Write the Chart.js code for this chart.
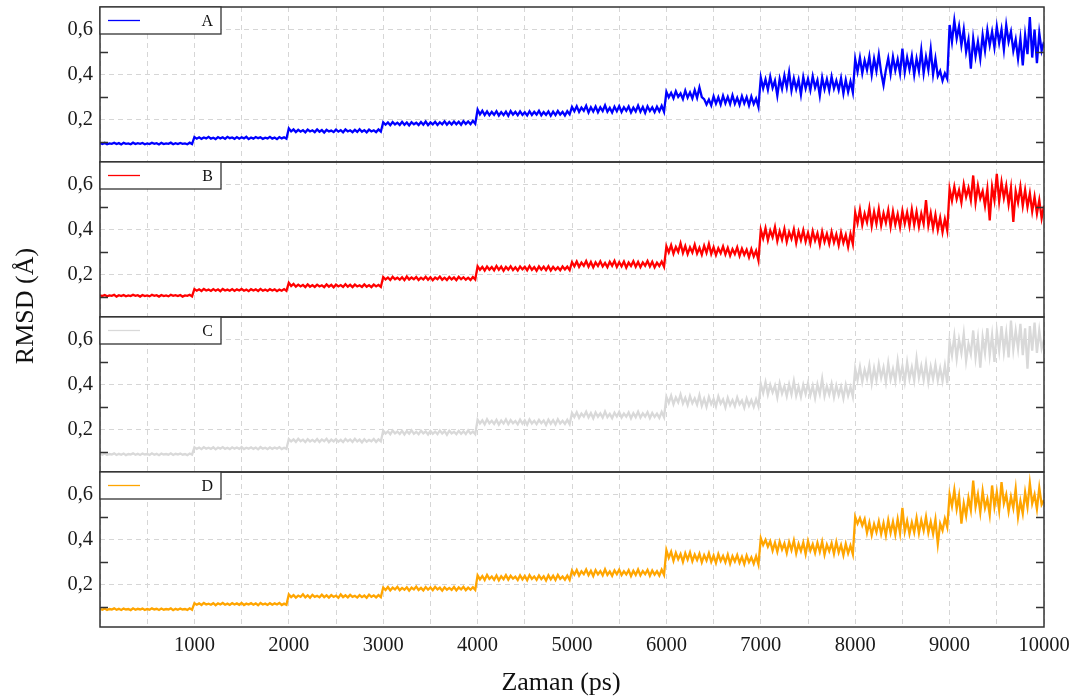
<!DOCTYPE html>
<html>
<head>
<meta charset="utf-8">
<script src="https://cdn.jsdelivr.net/npm/chart.js@4.4.1/dist/chart.umd.min.js"></script>
<style>
html,body{margin:0;padding:0;background:#fff;}
#wrap{position:relative;width:1083px;height:700px;}
canvas{display:block;}
</style>
</head>
<body>
<div id="wrap"><canvas id="c" width="1083" height="700"></canvas></div>
<script>
// ---- data (RMSD in Å, sampled every 25 ps from 0 to 10000 ps; one row = 1000 ps) ----
const seriesLabels = ['A', 'B', 'C', 'D'];
const seriesColors = ['#0000ff', '#ff0000', '#d9d9d9', '#ffa500'];
const sampleStepPs = 25;
const xTickLabels = [1000, 2000, 3000, 4000, 5000, 6000, 7000, 8000, 9000, 10000];
const yTickLabels = [0.2, 0.4, 0.6];
const yMinorTicks = [0.1, 0.3, 0.5];

const rmsdA = [
  0.094,0.090,0.095,0.089,0.093,0.091,0.096,0.090,0.094,0.088,0.095,0.091,0.093,0.089,0.096,0.090,0.094,0.091,0.095,0.089,0.093,0.090,0.096,0.091,0.094,0.088,0.095,0.090,0.093,0.091,0.096,0.089,0.094,0.090,0.095,0.091,0.093,0.089,0.096,0.090,
  0.121,0.114,0.120,0.113,0.119,0.115,0.122,0.114,0.118,0.112,0.121,0.115,0.120,0.113,0.122,0.116,0.119,0.113,0.121,0.114,0.120,0.115,0.122,0.112,0.119,0.114,0.121,0.116,0.120,0.113,0.118,0.115,0.122,0.114,0.119,0.112,0.121,0.115,0.120,0.114,
  0.160,0.146,0.155,0.143,0.153,0.145,0.152,0.142,0.154,0.146,0.151,0.143,0.155,0.145,0.152,0.141,0.153,0.146,0.150,0.143,0.154,0.145,0.152,0.142,0.155,0.146,0.151,0.143,0.153,0.144,0.156,0.145,0.152,0.142,0.154,0.146,0.151,0.143,0.155,0.145,
  0.187,0.176,0.186,0.174,0.188,0.177,0.185,0.175,0.189,0.176,0.186,0.173,0.187,0.178,0.185,0.175,0.188,0.176,0.190,0.174,0.186,0.177,0.189,0.175,0.187,0.178,0.191,0.176,0.188,0.177,0.190,0.178,0.189,0.176,0.192,0.179,0.190,0.178,0.193,0.180,
  0.243,0.222,0.238,0.219,0.235,0.218,0.233,0.220,0.236,0.217,0.232,0.219,0.234,0.216,0.237,0.221,0.233,0.218,0.235,0.220,0.231,0.217,0.236,0.219,0.233,0.221,0.238,0.218,0.232,0.220,0.235,0.216,0.234,0.219,0.237,0.221,0.233,0.217,0.236,0.222,
  0.255,0.236,0.258,0.233,0.252,0.238,0.260,0.231,0.254,0.235,0.257,0.232,0.253,0.237,0.262,0.234,0.251,0.230,0.256,0.236,0.259,0.233,0.254,0.238,0.257,0.231,0.252,0.235,0.261,0.234,0.255,0.229,0.258,0.237,0.253,0.232,0.256,0.236,0.260,0.233,
  0.322,0.298,0.318,0.294,0.325,0.300,0.315,0.290,0.328,0.297,0.320,0.293,0.330,0.296,0.342,0.299,0.290,0.266,0.288,0.262,0.302,0.270,0.298,0.266,0.305,0.272,0.300,0.268,0.307,0.270,0.296,0.265,0.303,0.271,0.299,0.262,0.301,0.268,0.292,0.255,
  0.385,0.338,0.378,0.332,0.390,0.340,0.372,0.305,0.380,0.336,0.395,0.342,0.410,0.328,0.382,0.335,0.376,0.310,0.388,0.338,0.380,0.330,0.392,0.341,0.374,0.306,0.386,0.334,0.378,0.328,0.390,0.337,0.372,0.330,0.383,0.315,0.375,0.322,0.368,0.320,
  0.468,0.412,0.475,0.405,0.462,0.420,0.480,0.398,0.470,0.415,0.488,0.408,0.352,0.420,0.472,0.402,0.478,0.418,0.466,0.405,0.515,0.410,0.475,0.422,0.482,0.398,0.470,0.415,0.508,0.405,0.478,0.420,0.512,0.400,0.470,0.392,0.415,0.372,0.405,0.380,
  0.620,0.545,0.640,0.560,0.615,0.530,0.600,0.500,0.555,0.425,0.560,0.480,0.545,0.470,0.575,0.505,0.598,0.530,0.590,0.520,0.612,0.540,0.600,0.510,0.620,0.545,0.590,0.505,0.555,0.470,0.560,0.440,0.575,0.490,0.655,0.475,0.600,0.450,0.585,0.505,
  0.545
];
const rmsdB = [
  0.107,0.103,0.108,0.102,0.106,0.104,0.109,0.101,0.107,0.103,0.108,0.102,0.106,0.103,0.109,0.104,0.107,0.101,0.108,0.103,0.106,0.102,0.109,0.104,0.107,0.101,0.108,0.103,0.106,0.102,0.109,0.104,0.107,0.103,0.108,0.101,0.106,0.104,0.109,0.102,
  0.134,0.127,0.133,0.126,0.135,0.128,0.132,0.126,0.134,0.127,0.133,0.125,0.135,0.128,0.132,0.127,0.134,0.126,0.133,0.128,0.135,0.127,0.132,0.125,0.134,0.128,0.133,0.126,0.135,0.127,0.132,0.126,0.134,0.128,0.133,0.125,0.132,0.127,0.134,0.126,
  0.162,0.148,0.157,0.145,0.154,0.146,0.153,0.143,0.155,0.145,0.152,0.144,0.154,0.146,0.151,0.143,0.155,0.145,0.153,0.142,0.154,0.146,0.152,0.144,0.156,0.145,0.153,0.143,0.154,0.146,0.151,0.144,0.155,0.145,0.152,0.143,0.154,0.146,0.153,0.144,
  0.188,0.177,0.186,0.175,0.189,0.178,0.185,0.176,0.187,0.174,0.190,0.177,0.186,0.178,0.188,0.175,0.185,0.177,0.189,0.176,0.187,0.174,0.186,0.178,0.190,0.176,0.185,0.175,0.188,0.177,0.186,0.174,0.189,0.178,0.187,0.176,0.185,0.175,0.188,0.177,
  0.236,0.220,0.233,0.217,0.235,0.221,0.232,0.218,0.237,0.220,0.234,0.216,0.233,0.221,0.236,0.219,0.231,0.217,0.235,0.222,0.233,0.218,0.237,0.220,0.232,0.216,0.235,0.221,0.234,0.219,0.236,0.217,0.233,0.220,0.231,0.218,0.235,0.222,0.234,0.219,
  0.254,0.236,0.257,0.233,0.252,0.238,0.259,0.234,0.255,0.231,0.253,0.237,0.258,0.235,0.251,0.232,0.256,0.238,0.260,0.233,0.254,0.236,0.257,0.230,0.252,0.237,0.258,0.234,0.255,0.232,0.253,0.238,0.259,0.235,0.256,0.231,0.252,0.237,0.257,0.234,
  0.325,0.298,0.330,0.292,0.322,0.300,0.338,0.295,0.326,0.290,0.320,0.297,0.332,0.293,0.318,0.288,0.327,0.296,0.335,0.291,0.321,0.286,0.316,0.294,0.324,0.289,0.318,0.283,0.312,0.290,0.320,0.282,0.314,0.287,0.310,0.276,0.312,0.280,0.305,0.262,
  0.398,0.360,0.405,0.352,0.395,0.365,0.410,0.348,0.392,0.355,0.402,0.345,0.388,0.358,0.400,0.340,0.390,0.352,0.396,0.346,0.385,0.338,0.392,0.350,0.383,0.332,0.390,0.345,0.380,0.336,0.388,0.342,0.378,0.330,0.386,0.340,0.375,0.322,0.380,0.335,
  0.475,0.428,0.488,0.420,0.470,0.432,0.495,0.415,0.478,0.425,0.490,0.418,0.472,0.430,0.485,0.412,0.480,0.422,0.468,0.410,0.482,0.426,0.475,0.415,0.488,0.420,0.478,0.412,0.470,0.425,0.530,0.418,0.472,0.405,0.465,0.398,0.452,0.388,0.445,0.395,
  0.580,0.528,0.590,0.535,0.575,0.520,0.600,0.545,0.585,0.530,0.640,0.520,0.595,0.538,0.570,0.505,0.580,0.440,0.590,0.530,0.647,0.525,0.610,0.540,0.595,0.512,0.585,0.433,0.570,0.520,0.590,0.505,0.575,0.500,0.560,0.480,0.545,0.470,0.530,0.450,
  0.505
];
const rmsdC = [
  0.091,0.087,0.092,0.086,0.090,0.088,0.093,0.086,0.091,0.087,0.092,0.085,0.090,0.088,0.093,0.087,0.091,0.086,0.092,0.088,0.090,0.086,0.093,0.087,0.091,0.085,0.092,0.088,0.090,0.087,0.093,0.086,0.091,0.088,0.092,0.087,0.090,0.085,0.092,0.087,
  0.120,0.113,0.119,0.112,0.121,0.114,0.118,0.113,0.120,0.111,0.119,0.114,0.121,0.113,0.118,0.112,0.120,0.114,0.119,0.113,0.121,0.112,0.118,0.114,0.120,0.113,0.119,0.111,0.121,0.114,0.118,0.112,0.120,0.113,0.119,0.114,0.121,0.112,0.118,0.113,
  0.157,0.146,0.155,0.144,0.158,0.147,0.154,0.143,0.156,0.146,0.153,0.145,0.157,0.144,0.155,0.147,0.158,0.143,0.154,0.146,0.156,0.145,0.153,0.143,0.157,0.147,0.155,0.144,0.158,0.146,0.154,0.142,0.156,0.145,0.153,0.147,0.157,0.144,0.155,0.146,
  0.194,0.181,0.191,0.178,0.195,0.182,0.190,0.179,0.193,0.177,0.192,0.181,0.196,0.180,0.189,0.178,0.194,0.182,0.191,0.177,0.193,0.180,0.190,0.179,0.195,0.181,0.192,0.176,0.194,0.182,0.189,0.178,0.193,0.180,0.191,0.179,0.196,0.181,0.190,0.178,
  0.243,0.226,0.240,0.222,0.245,0.227,0.238,0.224,0.242,0.221,0.239,0.226,0.244,0.223,0.241,0.227,0.237,0.222,0.243,0.225,0.240,0.221,0.244,0.226,0.238,0.223,0.242,0.227,0.239,0.220,0.243,0.225,0.241,0.222,0.245,0.226,0.238,0.224,0.242,0.223,
  0.273,0.255,0.276,0.251,0.270,0.257,0.278,0.253,0.272,0.249,0.275,0.256,0.271,0.252,0.279,0.254,0.269,0.250,0.274,0.257,0.277,0.253,0.270,0.256,0.275,0.249,0.272,0.254,0.278,0.252,0.271,0.257,0.276,0.250,0.273,0.255,0.270,0.251,0.277,0.254,
  0.345,0.318,0.350,0.312,0.342,0.320,0.355,0.315,0.340,0.308,0.348,0.316,0.338,0.310,0.352,0.305,0.336,0.300,0.344,0.312,0.335,0.302,0.346,0.314,0.333,0.298,0.340,0.308,0.330,0.303,0.342,0.311,0.328,0.296,0.337,0.305,0.330,0.300,0.334,0.302,
  0.402,0.362,0.410,0.355,0.398,0.365,0.395,0.342,0.405,0.360,0.392,0.348,0.400,0.356,0.415,0.350,0.390,0.345,0.398,0.358,0.405,0.352,0.394,0.340,0.400,0.357,0.425,0.348,0.392,0.355,0.402,0.343,0.395,0.352,0.390,0.338,0.398,0.350,0.388,0.345,
  0.470,0.420,0.478,0.412,0.465,0.425,0.485,0.405,0.472,0.418,0.490,0.430,0.475,0.410,0.495,0.422,0.468,0.415,0.505,0.428,0.480,0.412,0.498,0.425,0.476,0.418,0.515,0.430,0.482,0.420,0.492,0.410,0.478,0.425,0.488,0.418,0.472,0.415,0.484,0.405,
  0.590,0.530,0.615,0.515,0.600,0.540,0.625,0.505,0.580,0.535,0.640,0.520,0.605,0.475,0.610,0.540,0.650,0.530,0.620,0.500,0.635,0.550,0.660,0.545,0.630,0.520,0.684,0.555,0.640,0.560,0.670,0.530,0.650,0.470,0.660,0.550,0.675,0.540,0.640,0.560,
  0.600
];
const rmsdD = [
  0.091,0.087,0.092,0.086,0.090,0.088,0.093,0.087,0.091,0.086,0.092,0.088,0.090,0.085,0.093,0.087,0.091,0.088,0.092,0.086,0.090,0.087,0.093,0.088,0.091,0.086,0.092,0.087,0.090,0.088,0.093,0.085,0.091,0.087,0.092,0.088,0.090,0.086,0.093,0.087,
  0.116,0.109,0.115,0.108,0.117,0.110,0.114,0.109,0.116,0.107,0.115,0.110,0.117,0.109,0.114,0.108,0.116,0.110,0.115,0.109,0.117,0.108,0.114,0.110,0.116,0.109,0.115,0.107,0.117,0.110,0.114,0.108,0.116,0.109,0.115,0.110,0.117,0.108,0.114,0.109,
  0.155,0.143,0.152,0.141,0.150,0.144,0.156,0.142,0.151,0.140,0.153,0.144,0.149,0.142,0.154,0.143,0.151,0.141,0.152,0.144,0.150,0.140,0.155,0.143,0.151,0.142,0.153,0.144,0.149,0.141,0.152,0.143,0.150,0.140,0.154,0.144,0.151,0.142,0.152,0.143,
  0.186,0.175,0.188,0.173,0.185,0.177,0.189,0.174,0.184,0.176,0.187,0.172,0.185,0.177,0.190,0.175,0.184,0.173,0.188,0.176,0.186,0.174,0.189,0.177,0.185,0.172,0.187,0.176,0.184,0.175,0.188,0.173,0.186,0.177,0.189,0.174,0.185,0.176,0.187,0.175,
  0.240,0.222,0.237,0.219,0.242,0.224,0.235,0.220,0.239,0.218,0.236,0.223,0.241,0.221,0.238,0.225,0.234,0.219,0.240,0.222,0.237,0.218,0.241,0.224,0.235,0.220,0.239,0.223,0.236,0.217,0.240,0.222,0.238,0.219,0.242,0.224,0.235,0.221,0.239,0.220,
  0.261,0.243,0.264,0.239,0.258,0.245,0.266,0.241,0.260,0.237,0.263,0.244,0.259,0.240,0.267,0.242,0.257,0.238,0.262,0.245,0.265,0.241,0.258,0.244,0.263,0.237,0.260,0.242,0.266,0.240,0.259,0.245,0.264,0.238,0.261,0.243,0.258,0.239,0.265,0.242,
  0.352,0.318,0.345,0.305,0.340,0.312,0.335,0.300,0.338,0.310,0.342,0.303,0.332,0.308,0.336,0.298,0.330,0.306,0.338,0.300,0.328,0.295,0.334,0.304,0.326,0.298,0.332,0.292,0.325,0.302,0.330,0.296,0.322,0.290,0.328,0.299,0.320,0.292,0.325,0.288,
  0.405,0.375,0.398,0.368,0.392,0.350,0.385,0.345,0.390,0.355,0.382,0.340,0.388,0.352,0.395,0.338,0.380,0.348,0.386,0.335,0.392,0.350,0.378,0.340,0.385,0.345,0.390,0.332,0.376,0.348,0.383,0.336,0.388,0.342,0.375,0.330,0.380,0.338,0.372,0.334,
  0.500,0.470,0.495,0.462,0.490,0.430,0.475,0.420,0.468,0.432,0.480,0.425,0.472,0.418,0.485,0.430,0.478,0.422,0.490,0.428,0.540,0.435,0.482,0.425,0.475,0.432,0.495,0.428,0.485,0.440,0.500,0.430,0.478,0.425,0.488,0.380,0.470,0.440,0.492,0.455,
  0.600,0.548,0.620,0.535,0.595,0.470,0.560,0.505,0.585,0.530,0.662,0.545,0.600,0.520,0.615,0.540,0.580,0.510,0.640,0.545,0.610,0.530,0.655,0.560,0.600,0.525,0.590,0.540,0.625,0.500,0.570,0.515,0.610,0.545,0.650,0.560,0.600,0.535,0.630,0.555,
  0.575
];
const seriesValues = [rmsdA, rmsdB, rmsdC, rmsdD];

// ---- chart ----
const SERIF = '"Liberation Serif", "DejaVu Serif", serif';
const axisIds = ['yA', 'yB', 'yC', 'yD'];
const GRID = '#d6d6d6';
const FRAME = '#333333';

const datasets = seriesValues.map((vals, i) => ({
  label: seriesLabels[i],
  data: vals.map((v, k) => ({ x: k * sampleStepPs, y: v })),
  borderColor: seriesColors[i],
  backgroundColor: seriesColors[i],
  borderWidth: 2.3,
  borderJoinStyle: 'miter',
  pointRadius: 0,
  tension: 0,
  yAxisID: axisIds[i]
}));

const isMajorY = v => yTickLabels.some(t => Math.abs(t - v) < 1e-6);

function makeY() {
  return {
    type: 'linear',
    position: 'left',
    stack: 'panels',
    stackWeight: 1,
    min: 0.01,
    max: 0.70,
    afterBuildTicks: s => { s.ticks = yMinorTicks.concat(yTickLabels).sort((a, b) => a - b).map(v => ({ value: v })); },
    afterFit: s => { s.width = 100; s.paddingTop = 0; s.paddingBottom = 0; },
    grid: {
      drawTicks: false,
      color: ctx => (ctx.tick && isMajorY(ctx.tick.value)) ? GRID : 'rgba(0,0,0,0)',
      lineWidth: 1
    },
    border: { display: false, dash: [5, 4] },
    ticks: {
      autoSkip: false,
      padding: 7,
      color: '#1a1a1a',
      font: { family: SERIF, size: 20.5 },
      callback: v => isMajorY(v) ? v.toFixed(1).replace('.', ',') : ''
    }
  };
}

const scales = {
  x: {
    type: 'linear',
    min: 0,
    max: 10000,
    afterBuildTicks: s => {
      const t = [];
      for (let v = 0; v <= 10000; v += 500) t.push({ value: v });
      s.ticks = t;
    },
    afterFit: s => { s.height = 73; s.paddingLeft = 0; s.paddingRight = 0; },
    grid: { drawTicks: false, color: GRID, lineWidth: 1 },
    border: { display: false, dash: [5, 4] },
    ticks: {
      padding: 6,
      autoSkip: false,
      maxRotation: 0,
      color: '#1a1a1a',
      font: { family: SERIF, size: 20.5 },
      callback: v => xTickLabels.includes(v) ? String(v) : ''
    }
  }
};
// stacked scales: the last one defined is placed on top, so add D..A
axisIds.slice().reverse().forEach(id => { scales[id] = makeY(); });

const framePlugin = {
  id: 'frame',
  afterDatasetsDraw(chart) {
    const ctx = chart.ctx;
    const ca = chart.chartArea;
    ctx.save();
    chart.data.datasets.forEach((ds) => {
      const sc = chart.scales[ds.yAxisID];
      const top = sc.top, bottom = sc.bottom;
      ctx.strokeStyle = FRAME;
      ctx.lineWidth = 1.5;
      yMinorTicks.forEach(v => {
        const y = Math.round(sc.getPixelForValue(v)) + 0.5;
        ctx.beginPath();
        ctx.moveTo(ca.left, y); ctx.lineTo(ca.left + 8, y);
        ctx.moveTo(ca.right - 8, y); ctx.lineTo(ca.right, y);
        ctx.stroke();
      });
      ctx.lineWidth = 1.5;
      ctx.strokeRect(ca.left, top, ca.right - ca.left, bottom - top);
      const bw = 121, bh = 27;
      ctx.fillStyle = '#ffffff';
      ctx.fillRect(ca.left, top, bw, bh);
      ctx.lineWidth = 1.3;
      ctx.strokeRect(ca.left, top, bw, bh);
      ctx.strokeStyle = ds.borderColor;
      ctx.lineWidth = 1.3;
      ctx.beginPath();
      ctx.moveTo(ca.left + 8, top + 13.5);
      ctx.lineTo(ca.left + 40, top + 13.5);
      ctx.stroke();
      ctx.fillStyle = '#111111';
      ctx.font = '16px ' + SERIF;
      ctx.textAlign = 'right';
      ctx.textBaseline = 'middle';
      ctx.fillText(ds.label, ca.left + 113, top + 14.5);
    });
    ctx.fillStyle = '#111111';
    ctx.font = '26px ' + SERIF;
    ctx.textAlign = 'center';
    ctx.textBaseline = 'middle';
    ctx.fillText('Zaman (ps)', 561, 683);
    ctx.save();
    ctx.translate(26, 306);
    ctx.rotate(-Math.PI / 2);
    ctx.fillText('RMSD (Å)', 0, 0);
    ctx.restore();
    ctx.restore();
  }
};

new Chart(document.getElementById('c'), {
  type: 'line',
  data: { datasets },
  options: {
    responsive: false,
    animation: false,
    devicePixelRatio: 1,
    layout: { padding: { left: 0, right: 39, top: 7, bottom: 0 } },
    plugins: { legend: { display: false }, tooltip: { enabled: false } },
    scales
  },
  plugins: [framePlugin]
});
</script>
</body>
</html>
